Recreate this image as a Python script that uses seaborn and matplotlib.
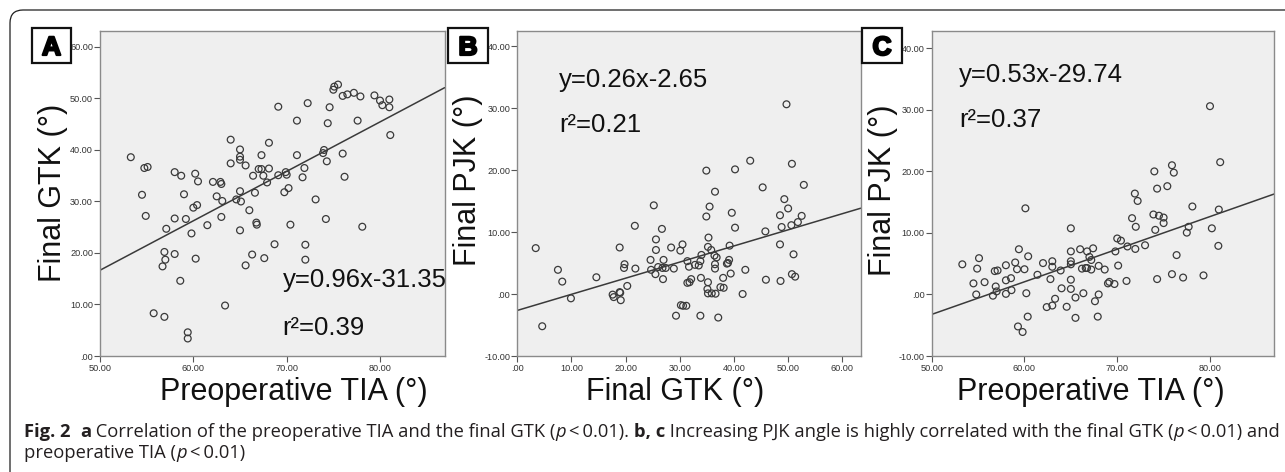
import numpy as np
import pandas as pd
import matplotlib
matplotlib.use("Agg")
import matplotlib.pyplot as plt
import seaborn as sns
from matplotlib import font_manager, transforms, patheffects
from matplotlib.patches import FancyBboxPatch, Rectangle

# ---------------- data ----------------
a_tia = [53.3, 54.75, 55.1, 54.5, 54.9, 57.1, 58.0, 58.7, 59.0, 58.0, 59.2, 59.8, 60.0, 60.4,
         60.2, 60.5, 60.25, 56.9, 57.0, 56.7, 58.0, 58.6, 55.75, 56.9, 59.4, 59.4, 62.1, 62.9,
         63.0, 62.5, 63.1, 61.5, 63.0, 63.4, 64.0, 64.0, 65.0, 65.0, 65.0, 65.6, 64.6, 65.0,
         65.1, 65.0, 65.6, 66.0, 66.4, 66.6, 66.75, 66.8, 66.3, 67.0, 67.3, 67.3, 67.5, 67.9,
         68.1, 68.1, 67.6, 68.7, 69.1, 69.1, 69.9, 70.0, 69.75, 70.2, 70.4, 71.1, 71.1, 71.9,
         71.7, 72.0, 72.0, 72.25, 73.1, 73.9, 74.0, 74.3, 74.4, 74.6, 74.2, 75.0, 75.1, 75.5,
         76.0, 76.5, 76.0, 76.2, 77.2, 77.9, 77.6, 78.1, 79.4, 80.0, 80.25, 81.0, 81.0, 81.1]
a_gtk = [38.6, 36.5, 36.7, 31.3, 27.2, 24.7, 35.7, 35.0, 31.4, 26.7, 26.6, 23.8, 28.8, 29.3,
         35.4, 33.9, 18.9, 20.2, 18.7, 17.4, 19.8, 14.6, 8.3, 7.6, 4.6, 3.4, 33.8, 33.8,
         33.4, 31.0, 30.1, 25.4, 27.0, 9.8, 42.0, 37.4, 40.1, 38.7, 38.1, 37.0, 30.4, 32.0,
         30.0, 24.4, 17.6, 28.3, 35.0, 31.7, 25.9, 25.5, 19.7, 36.3, 36.3, 39.0, 35.0, 33.7,
         36.4, 41.4, 19.0, 21.7, 48.4, 35.1, 35.7, 35.2, 31.8, 32.6, 25.5, 45.7, 39.0, 36.5,
         34.7, 21.6, 18.7, 49.1, 30.4, 39.4, 40.0, 37.8, 45.2, 48.3, 26.6, 51.7, 52.3, 52.7,
         50.5, 50.8, 39.3, 34.8, 51.1, 50.4, 45.7, 25.1, 50.6, 49.6, 48.7, 49.8, 48.3, 42.9]

b_gtk = [3.4, 4.6, 7.5, 8.3, 9.9, 14.6, 17.6, 17.8, 18.9, 18.9, 19.0, 19.1, 19.8, 19.7, 20.3,
         21.8, 21.7, 24.6, 24.7, 25.2, 25.5, 25.6, 25.6, 26.0, 26.7, 26.9, 27.0, 26.8, 27.4,
         28.4, 28.9, 30.1, 30.5, 30.2, 30.6, 31.2, 29.3, 31.4, 31.7, 31.4, 31.8, 32.1, 32.8,
         33.5, 33.8, 34.0, 33.9, 33.8, 34.9, 34.9, 35.5, 35.3, 35.2, 35.8, 35.2, 35.1, 35.2,
         35.9, 36.5, 36.4, 36.8, 36.5, 36.5, 36.6, 37.1, 37.5, 38.1, 38.0, 38.7, 38.9, 39.1,
         39.2, 39.4, 39.6, 40.2, 40.2, 41.6, 42.1, 43.0, 45.3, 45.8, 45.9, 48.5, 48.5, 48.6,
         48.8, 49.3, 49.7, 50.0, 50.6, 50.7, 51.0, 50.7, 51.3, 51.8, 52.5, 52.9]
b_pjk = [7.4, -5.2, 3.9, 2.0, -0.7, 2.7, -0.1, -0.5, 7.5, 0.3, 0.2, -1.0, 4.8, 4.2, 1.3,
         4.1, 11.0, 5.5, 3.9, 14.3, 3.2, 8.8, 7.1, 4.35, 10.5, 2.4, 5.5, 4.2, 4.2,
         7.5, 4.1, 7.0, 8.0, -1.8, -1.9, -1.9, -3.5, 5.3, 4.4, 1.8, 1.9, 2.4, 4.7,
         4.6, 5.3, 6.3, 2.6, -3.5, 19.9, 12.5, 14.1, 9.1, 7.6, 7.1, 1.9, 0.8, 0.1,
         0.1, 16.5, 6.2, 5.9, 4.8, 4.1, 0.05, -3.8, 1.1, 1.0, 2.6, 4.9, 5.0, 5.5,
         7.8, 3.3, 13.1, 20.1, 10.7, 0.0, 3.9, 21.5, 17.2, 10.1, 2.3, 8.0, 12.7, 2.1,
         10.8, 15.3, 30.6, 13.8, 11.1, 21.0, 6.4, 3.2, 2.8, 11.6, 12.6, 17.6]

c_tia = [53.3, 54.5, 54.9, 55.1, 54.8, 55.7, 56.6, 56.9, 56.8, 57.1, 57.0, 58.0, 58.0, 58.0,
         58.55, 58.6, 59.0, 59.2, 59.4, 59.3, 59.8, 60.0, 60.1, 60.2, 60.35, 60.4, 61.4, 62.0,
         62.4, 62.8, 63.0, 63.0, 63.0, 63.3, 63.9, 64.0, 64.55, 65.0, 65.0, 65.0, 65.0, 65.0,
         65.0, 65.5, 65.5, 66.0, 66.2, 66.35, 66.6, 66.75, 66.75, 67.0, 67.2, 67.2, 67.4, 67.6,
         67.9, 68.0, 68.0, 68.65, 69.0, 69.15, 69.7, 69.8, 70.0, 70.4, 70.1, 71.0, 71.1, 71.6,
         71.9, 71.95, 72.0, 72.2, 73.0, 74.0, 73.9, 74.1, 74.3, 74.3, 74.5, 75.0, 75.0, 75.4,
         75.9, 76.1, 75.9, 76.4, 77.1, 77.5, 77.7, 78.1, 79.3, 80.0, 80.2, 80.9, 80.95, 81.1]
c_pjk = [4.9, 1.8, 4.2, 5.9, 0.0, 2.0, -0.2, 1.3, 3.8, 3.9, 0.5, 4.75, 2.3, 0.1,
         2.65, 0.7, 5.2, 4.1, 7.35, -5.2, -6.1, 4.1, 14.0, 0.2, -3.6, 6.2, 3.2, 5.1,
         -2.05, 2.5, 4.5, 5.4, -1.8, -0.7, 3.9, 1.0, -2.0, 10.75, 7.0, 5.4, 4.9, 2.4,
         0.9, -0.5, -3.8, 7.35, 4.2, 0.2, 4.3, 4.3, 7.0, 6.1, 5.6, 4.05, 7.5, -1.1,
         -3.6, 0.0, 4.65, 4.05, 1.8, 2.05, 1.7, 7.0, 9.1, 8.75, 4.7, 2.2, 7.8, 12.4,
         16.4, 7.4, 11.0, 15.2, 8.0, 20.0, 13.0, 10.5, 2.5, 17.2, 12.8, 12.5, 11.6, 17.6,
         21.0, 19.8, 3.3, 6.4, 2.75, 10.05, 11.0, 14.3, 3.1, 30.6, 10.75, 7.9, 13.8, 21.5]

# regression lines (slope, intercept) and annotation text
a_fit = (0.96, -31.35)
b_fit = (0.26, -2.65)
c_fit = (0.53, -29.74)
a_eq, a_r2 = "y=0.96x-31.35", "r\u00b2=0.39"
b_eq, b_r2 = "y=0.26x-2.65", "r\u00b2=0.21"
c_eq, c_r2 = "y=0.53x-29.74", "r\u00b2=0.37"

# ticks
tia_ticks = [50, 60, 70, 80]
tia_labels = ["50.00", "60.00", "70.00", "80.00"]
gtk_ticks = [0, 10, 20, 30, 40, 50, 60]
gtk_labels = [".00", "10.00", "20.00", "30.00", "40.00", "50.00", "60.00"]
pjk_ticks = [-10, 0, 10, 20, 30, 40]
pjk_labels = ["-10.00", ".00", "10.00", "20.00", "30.00", "40.00"]

panel_letters = ["A", "B", "C"]
x_titles = ["Preoperative TIA (\u00b0)", "Final GTK (\u00b0)", "Preoperative TIA (\u00b0)"]
y_titles = ["Final GTK (\u00b0)", "Final PJK (\u00b0)", "Final PJK (\u00b0)"]

# ---------------- figure ----------------
W, H = 1285, 472
sns.set_style("ticks")
plt.rcParams["font.family"] = ["Liberation Sans", "DejaVu Sans"]

fig = plt.figure(figsize=(W / 100, H / 100), dpi=100)
fig.patch.set_facecolor("white")


def frect(l, t, r, b):
    return [l / W, 1 - b / H, (r - l) / W, (b - t) / H]


# outer rounded frame (extends beyond right/bottom edge)
frame = FancyBboxPatch((10, -60), 1400, H - 10 + 60,
                       boxstyle="round,pad=0,rounding_size=13",
                       transform=transforms.IdentityTransform(),
                       fill=False, edgecolor="#1e1e1e", linewidth=0.9)
fig.add_artist(frame)

panels = [
    dict(rect=(100, 30.5, 444.7, 356), x=a_tia, y=a_gtk, xlim=(50, 86.93), ylim=(0, 63.2),
         xt=(tia_ticks, tia_labels), yt=(gtk_ticks, gtk_labels), fit=a_fit,
         eq=a_eq, r2=a_r2, txy=(0.530, 0.2117, 0.0644), xl=0.563, yl=(-0.136, 0.5),
         box=(32, 28, 71, 63)),
    dict(rect=(517.3, 30.5, 860.7, 356), x=b_gtk, y=b_pjk, xlim=(0, 63.4), ylim=(-10, 42.5),
         xt=(gtk_ticks, gtk_labels), yt=(pjk_ticks, pjk_labels), fit=b_fit,
         eq=b_eq, r2=b_r2, txy=(0.1214, 0.825, 0.687), xl=0.459, yl=(-0.1436, 0.54),
         box=(448, 28, 488, 63)),
    dict(rect=(931.7, 30.5, 1274, 356), x=c_tia, y=c_pjk, xlim=(50, 86.9), ylim=(-10, 42.9),
         xt=(tia_ticks, tia_labels), yt=(pjk_ticks, pjk_labels), fit=c_fit,
         eq=c_eq, r2=c_r2, txy=(0.0806, 0.8405, 0.7025), xl=0.465, yl=(-0.142, 0.51),
         box=(862, 28, 902, 63)),
]

for i, p in enumerate(panels):
    ax = fig.add_axes(frect(*p["rect"]))
    ax.set_facecolor("#efefef")
    df = pd.DataFrame({"x": p["x"], "y": p["y"]})
    sns.scatterplot(data=df, x="x", y="y", ax=ax, marker="o", s=24,
                    facecolor="none", edgecolor="#3a3a3a", linewidth=0.9, zorder=3)
    for coll in ax.collections:
        coll.set_facecolor("none")
        coll.set_edgecolor("#3a3a3a")
    slope, icpt = p["fit"]
    ax.axline((0, icpt), slope=slope, color="#3a3a3a", linewidth=1.1, zorder=2)
    ax.set_xlim(*p["xlim"])
    ax.set_ylim(*p["ylim"])
    ax.set_xticks(p["xt"][0])
    ax.set_xticklabels(p["xt"][1])
    ax.set_yticks(p["yt"][0])
    ax.set_yticklabels(p["yt"][1])
    ax.tick_params(axis="both", direction="out", length=4, width=0.8, color="#555555",
                   labelsize=6.6, labelcolor="#333333")
    ax.tick_params(axis="y", pad=1)
    ax.tick_params(axis="x", pad=2)
    for s in ax.spines.values():
        s.set_visible(True)
        s.set_color("#8a8a8a")
        s.set_linewidth(1.0)
    ax.set_xlabel(x_titles[i], fontsize=22, color="#111111", ha="center", va="baseline")
    ax.xaxis.set_label_coords(p["xl"], -0.135)
    ax.set_ylabel(y_titles[i], fontsize=22, color="#111111", ha="center", va="center")
    ax.yaxis.set_label_coords(*p["yl"])
    tx, ty1, ty2 = p["txy"]
    ax.text(tx, ty1, p["eq"], transform=ax.transAxes, fontsize=18.5, color="#111111",
            ha="left", va="baseline", zorder=5)
    ax.text(tx, ty2, p["r2"], transform=ax.transAxes, fontsize=18.5, color="#111111",
            ha="left", va="baseline", zorder=5)
    # panel letter box
    l, t, r, b = p["box"]
    fig.add_artist(Rectangle((l / W, 1 - b / H), (r - l) / W, (b - t) / H,
                             transform=fig.transFigure, facecolor="white",
                             edgecolor="#111111", linewidth=1.6))
    fig.text((l + r) / 2 / W, 1 - (t + b) / 2 / H, panel_letters[i], fontsize=19,
             fontweight="bold", color="black", ha="center", va="center_baseline",
             path_effects=[patheffects.withStroke(linewidth=1.6, foreground="black")])

# ---------------- caption ----------------
def has_font(name):
    try:
        font_manager.findfont(font_manager.FontProperties(family=name), fallback_to_default=False)
        return True
    except Exception:
        return False

cap_font = "Liberation Sans"
for cand in ["Liberation Sans Narrow", "Open Sans", "Lato"]:
    if has_font(cand):
        cap_font = cand
        break

cap_color = "#231f20"
line1 = [("Fig. 2", "b"), ("  ", "r"), ("a", "b"),
         (" Correlation of the preoperative TIA and the final GTK (", "r"), ("p", "i"),
         ("\u2009<\u20090.01). ", "r"), ("b, c", "b"),
         (" Increasing PJK angle is highly correlated with the final GTK (", "r"), ("p", "i"),
         ("\u2009<\u20090.01) and", "r")]
line2 = [("preoperative TIA (", "r"), ("p", "i"), ("\u2009<\u20090.01)", "r")]

renderer = fig.canvas.get_renderer()


def style_kw(st):
    return dict(fontweight="bold" if st == "b" else "normal",
                fontstyle="italic" if st == "i" else "normal")


def text_w(s, size, st):
    t = fig.text(0, 0, s, fontsize=size, family=[cap_font, "DejaVu Sans"], **style_kw(st))
    w = t.get_window_extent(renderer=renderer).width
    t.remove()
    return w


def seg_width(s, size, st):
    # include leading/trailing spaces by bracketing with a reference glyph
    return text_w("|" + s + "|", size, st) - text_w("||", size, st)


def draw_line(segs, x0, base, size, draw=True):
    x = x0
    for s, st in segs:
        if draw:
            fig.text(x / W, 1 - base / H, s, fontsize=size, family=[cap_font, "DejaVu Sans"],
                     color=cap_color, ha="left", va="baseline", **style_kw(st))
        x += seg_width(s, size, st)
    return x


base_size = 13.0
x_start, x_end = 24, 1272
end = draw_line(line1, x_start, 437, base_size, draw=False)
cap_size = base_size * (x_end - x_start) / (end - x_start)
draw_line(line1, x_start, 437, cap_size)
draw_line(line2, x_start, 458, cap_size)

fig.savefig("out.png", dpi=100, facecolor="white")
